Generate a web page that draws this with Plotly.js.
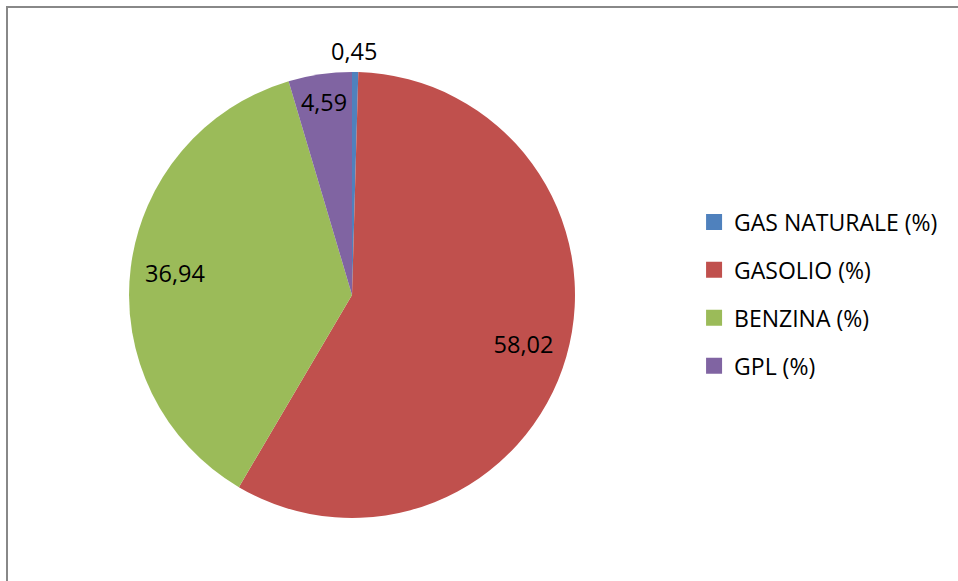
<!DOCTYPE html>
<html>
<head>
<meta charset="utf-8">
<script src="https://cdn.plot.ly/plotly-3.0.1.min.js"></script>
<style>
  html, body { margin: 0; padding: 0; background: #fff; }
  #wrap { position: relative; width: 958px; height: 581px; overflow: hidden; }
  #chart { position: absolute; left: 0; top: 0; width: 958px; height: 581px; }
  #frame { position: absolute; left: 6px; top: 6px; width: 1000px; height: 1000px;
           border-left: 2px solid #888888; border-top: 2px solid #888888; pointer-events: none; }
</style>
</head>
<body>
<div id="wrap"><div id="chart"></div><div id="frame"></div></div>
<script>
const categories = ["GAS NATURALE (%)", "GASOLIO (%)", "BENZINA (%)", "GPL (%)"];
const values = [0.45, 58.02, 36.94, 4.59];
const colors = ["#4F81BD", "#C0504D", "#9BBB59", "#8064A2"];

const FONT = "'Open Sans', 'Noto Sans', sans-serif";
const LABEL_SIZE = 23.5;
const domainX = [0.1347, 0.6002];
const domainY = [0.1084, 0.8761];

const fmt = v => v.toFixed(2).replace(".", ",");

// main filled pie (shows the small GPL label inside)
const pie = {
  type: "pie",
  labels: categories,
  values: values,
  sort: false,
  direction: "clockwise",
  rotation: 0,
  marker: { colors: colors, line: { width: 0 } },
  texttemplate: "%{value:.2f}",
  textposition: ["none", "none", "none", "inside"],
  insidetextorientation: "horizontal",
  textfont: { family: FONT, size: LABEL_SIZE, color: "#000000" },
  showlegend: false,
  hoverinfo: "label+value",
  domain: { x: domainX, y: domainY }
};

// transparent ring over the pie: places the large-slice labels near the rim
const ring = {
  type: "pie",
  labels: categories,
  values: values,
  sort: false,
  direction: "clockwise",
  rotation: 0,
  hole: 0.6,
  marker: { colors: categories.map(() => "rgba(0,0,0,0)"), line: { width: 0 } },
  texttemplate: "%{value:.2f}",
  textposition: ["none", "inside", "inside", "none"],
  insidetextorientation: "horizontal",
  textfont: { family: FONT, size: LABEL_SIZE, color: "#000000" },
  showlegend: false,
  hoverinfo: "skip",
  domain: { x: domainX, y: domainY }
};

const legendTraces = categories.map((name, i) => ({
  type: "scatter",
  mode: "markers",
  x: [null], y: [null],
  name: name,
  legendgroup: "g" + i,
  marker: { symbol: "square", size: 16, color: colors[i], line: { width: 0 } },
  hoverinfo: "skip"
}));

const layout = {
  width: 958, height: 581,
  margin: { l: 0, r: 0, t: 0, b: 0 },
  paper_bgcolor: "#ffffff",
  plot_bgcolor: "rgba(0,0,0,0)",
  separators: ",.",
  showlegend: true,
  xaxis: { visible: false },
  yaxis: { visible: false },
  legend: {
    x: 0.7245, y: 0.494, xanchor: "left", yanchor: "middle",
    font: { family: FONT, size: 23, color: "#000000" },
    tracegroupgap: 15,
    traceorder: "grouped",
    bgcolor: "rgba(0,0,0,0)",
    borderwidth: 0
  },
  annotations: [{
    xref: "paper", yref: "paper",
    x: (domainX[0] + domainX[1]) / 2, y: domainY[1],
    xanchor: "center", yanchor: "bottom",
    xshift: 2, yshift: 3,
    text: fmt(values[0]),
    showarrow: false,
    font: { family: FONT, size: LABEL_SIZE, color: "#000000" }
  }]
};

Plotly.newPlot("chart", [pie, ring].concat(legendTraces), layout, { displayModeBar: false, staticPlot: true });
</script>
</body>
</html>
